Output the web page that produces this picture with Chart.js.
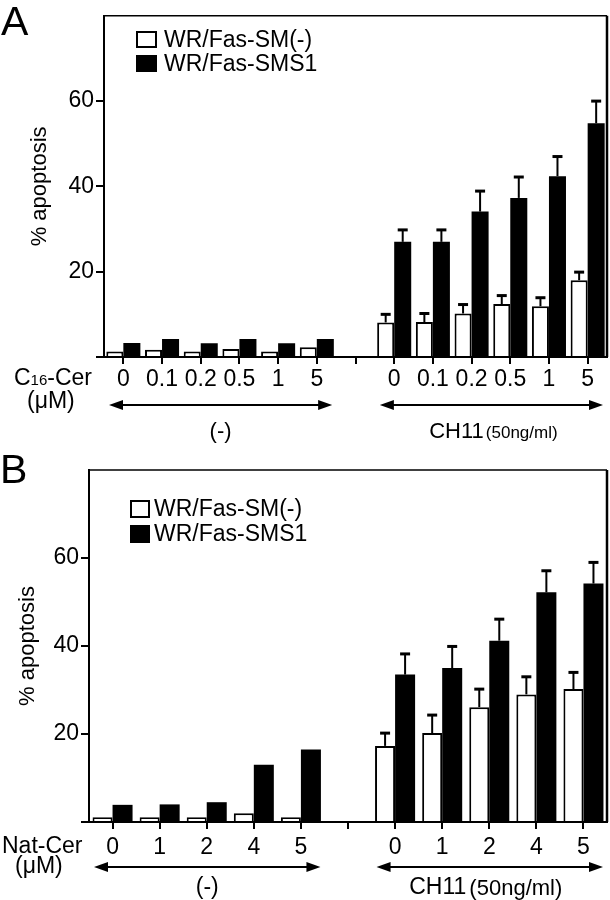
<!DOCTYPE html>
<html><head><meta charset="utf-8">
<script src="https://cdn.jsdelivr.net/npm/chart.js@4/dist/chart.umd.min.js"></script>
<style>
html,body{margin:0;padding:0;background:#fff;}
#wrap{position:relative;width:610px;height:900px;}
canvas{position:absolute;left:0;}
</style>
</head><body>
<div id="wrap">
<canvas id="cA" width="610" height="450" style="top:0"></canvas>
<canvas id="cB" width="610" height="450" style="top:450px"></canvas>
</div>
<script>
const FONT = '"Liberation Sans", Arial, Helvetica, sans-serif';
const seriesNames = ['WR/Fas-SM(-)', 'WR/Fas-SMS1'];
const yTickValues = [0, 20, 40, 60];
const yTitle = '% apoptosis';
const groupNames = ['(-)', 'CH11', '(50ng/ml)'];

// Panel A: C16-Cer (uM)
const catsA = ['0','0.1','0.2','0.5','1','5','','0','0.1','0.2','0.5','1','5'];
const smNegA = [1.3,1.7,1.3,1.9,1.3,2.3,null,8.1,8.2,10.2,12.4,11.9,18.0];
const smNegErrA = [0,0,0,0,0,0,null,1.9,2.0,2.1,2.0,2.0,1.9];
const sms1A = [3.3,4.2,3.2,4.2,3.2,4.2,null,27.0,27.0,34.1,37.3,42.4,54.8];
const sms1ErrA = [0,0,0,0,0,0,null,2.8,2.8,4.8,4.9,4.6,5.2];

// Panel B: Nat-Cer (uM)
const catsB = ['0','1','2','4','5','','0','1','2','4','5'];
const smNegB = [1.1,1.1,1.1,2.0,1.1,null,17.3,20.2,26.1,29.0,30.2];
const smNegErrB = [0,0,0,0,0,null,2.9,4.1,4.1,4.0,3.8];
const sms1B = [3.9,4.0,4.5,13.0,16.5,null,33.5,35.0,41.2,52.2,54.2];
const sms1ErrB = [0,0,0,0,0,null,4.7,4.9,4.9,4.9,4.8];

const errorBars = {
  id: 'errorBars',
  afterDatasetsDraw(chart) {
    const {ctx, scales: {y}} = chart;
    ctx.save();
    ctx.strokeStyle = '#000';
    chart.data.datasets.forEach((ds, i) => {
      const meta = chart.getDatasetMeta(i);
      meta.data.forEach((bar, j) => {
        const v = ds.data[j], e = ds.errors[j];
        if (v == null || !e) return;
        const yTop = y.getPixelForValue(v + e);
        const cx = bar.x;
        ctx.lineWidth = 2;
        ctx.beginPath(); ctx.moveTo(cx, bar.y); ctx.lineTo(cx, yTop); ctx.stroke();
        ctx.lineWidth = 3;
        ctx.beginPath(); ctx.moveTo(cx - 5, yTop); ctx.lineTo(cx + 5, yTop); ctx.stroke();
      });
    });
    ctx.restore();
  }
};

function arrow(ctx, x0, x1, y) {
  ctx.lineWidth = 2;
  ctx.beginPath(); ctx.moveTo(x0 + 6, y); ctx.lineTo(x1 - 6, y); ctx.stroke();
  ctx.beginPath(); ctx.moveTo(x0, y); ctx.lineTo(x0 + 14, y - 5); ctx.lineTo(x0 + 14, y + 5); ctx.closePath(); ctx.fill();
  ctx.beginPath(); ctx.moveTo(x1, y); ctx.lineTo(x1 - 14, y - 5); ctx.lineTo(x1 - 14, y + 5); ctx.closePath(); ctx.fill();
}

function makeAnnot(cfg) {
  return {
    id: 'annot',
    afterDraw(chart) {
      const {ctx, chartArea: ca, scales: {x}} = chart;
      ctx.save();
      ctx.strokeStyle = '#000'; ctx.fillStyle = '#000';
      // frame top/right
      ctx.lineWidth = 1.5;
      ctx.beginPath(); ctx.moveTo(ca.left, ca.top); ctx.lineTo(ca.right, ca.top); ctx.stroke();
      ctx.lineWidth = 2.5;
      ctx.beginPath(); ctx.moveTo(ca.right, ca.top); ctx.lineTo(ca.right, ca.bottom); ctx.stroke();
      // panel letter
      ctx.textBaseline = 'alphabetic'; ctx.textAlign = 'left';
      ctx.font = '41px ' + FONT;
      ctx.fillText(cfg.letter, cfg.letterX, cfg.letterY);
      // legend
      const lg = cfg.legend;
      ctx.font = cfg.legendFont + 'px ' + FONT;
      ctx.textBaseline = 'middle';
      ctx.lineWidth = 2;
      ctx.fillStyle = '#fff';
      ctx.fillRect(lg.x, lg.y1, lg.w, lg.h);
      ctx.strokeRect(lg.x + 1, lg.y1 + 1, lg.w - 2, lg.h - 2);
      ctx.fillStyle = '#000';
      ctx.fillRect(lg.x, lg.y2, lg.w, lg.h);
      ctx.fillText(seriesNames[0], lg.tx, lg.y1 + lg.h / 2 + 1);
      ctx.fillText(seriesNames[1], lg.tx, lg.y2 + lg.h / 2 + 1);
      // arrows + group labels
      const half = (x.getPixelForValue(1) - x.getPixelForValue(0)) / 2;
      const ay = ca.bottom + cfg.arrowDy;
      const groups = cfg.groups;
      groups.forEach((g, gi) => {
        const x0 = x.getPixelForValue(g[0]) - half + 5;
        const x1 = x.getPixelForValue(g[1]) + half - 4;
        arrow(ctx, x0, x1, ay);
        const cx = (x0 + x1) / 2;
        const gy = ca.bottom + cfg.groupDy;
        ctx.textBaseline = 'middle';
        if (gi === 0) {
          ctx.font = cfg.groupFont + 'px ' + FONT;
          ctx.textAlign = 'center';
          ctx.fillText(groupNames[0], cx, gy);
        } else {
          ctx.font = cfg.groupFont + 'px ' + FONT;
          const w1 = ctx.measureText(groupNames[1]).width;
          ctx.font = cfg.groupFont2 + 'px ' + FONT;
          const w2 = ctx.measureText(groupNames[2]).width;
          const gap = cfg.groupGap;
          const sx = cx - (w1 + gap + w2) / 2 + cfg.groupShift;
          ctx.textAlign = 'left';
          ctx.font = cfg.groupFont + 'px ' + FONT;
          ctx.fillText(groupNames[1], sx, gy);
          ctx.font = cfg.groupFont2 + 'px ' + FONT;
          ctx.fillText(groupNames[2], sx + w1 + gap, gy + 1);
        }
      });
      // row label
      ctx.textAlign = 'left'; ctx.textBaseline = 'middle';
      const ry = ca.bottom + cfg.rowDy;
      let rx = cfg.rowX;
      cfg.rowParts.forEach(p => {
        ctx.font = p.size + 'px ' + FONT;
        ctx.fillText(p.t, rx, ry + (p.dy || 0));
        rx += ctx.measureText(p.t).width;
      });
      ctx.font = cfg.tickFont + 'px ' + FONT;
      ctx.fillText('(\u03bcM)', cfg.unitX, ca.bottom + cfg.unitDy);
      ctx.restore();
    }
  };
}

function buildPanel(canvas, cats, neg, negErr, pos, posErr, cfg) {
  return new Chart(canvas, {
    type: 'bar',
    data: {
      labels: cats,
      datasets: [
        {label: seriesNames[0], data: neg, errors: negErr, backgroundColor: '#fff', borderColor: '#000', borderWidth: 2,
         categoryPercentage: cfg.catPct, barPercentage: 1},
        {label: seriesNames[1], data: pos, errors: posErr, backgroundColor: '#000', borderColor: '#000', borderWidth: 0,
         categoryPercentage: cfg.catPct, barPercentage: 1}
      ]
    },
    options: {
      responsive: false, animation: false, devicePixelRatio: 1, events: [],
      layout: {padding: {top: cfg.padTop, right: 3, left: 0, bottom: 0}},
      plugins: {legend: {display: false}, tooltip: {enabled: false}},
      scales: {
        x: {
          type: 'category', offset: true,
          grid: {offset: false, drawOnChartArea: false, drawTicks: true, tickLength: 7, color: '#000', lineWidth: 2},
          border: {display: true, color: '#000', width: 2},
          ticks: {font: {family: FONT, size: cfg.tickFont}, color: '#000', padding: cfg.xPad, maxRotation: 0, autoSkip: false},
          afterFit(s) { s.height = cfg.xAxisH; }
        },
        y: {
          min: 0, max: 80,
          afterBuildTicks(s) { s.ticks = yTickValues.map(v => ({value: v})); },
          grid: {drawOnChartArea: false, drawTicks: true, tickLength: 8, color: '#000', lineWidth: 2},
          border: {display: true, color: '#000', width: 2},
          ticks: {font: {family: FONT, size: cfg.tickFont}, color: '#000', padding: 2,
                  callback: v => v === 0 ? '' : String(v)},
          title: {display: true, text: yTitle, font: {family: FONT, size: 22}, color: '#000',
                  padding: {top: cfg.titlePad, bottom: 0}},
          afterFit(s) { s.width = cfg.yAxisW; }
        }
      }
    },
    plugins: [errorBars, makeAnnot(cfg)]
  });
}

buildPanel(document.getElementById('cA'), catsA, smNegA, smNegErrA, sms1A, sms1ErrA, {
  letter: 'A', letterX: 1, letterY: 35,
  padTop: 8, xAxisH: 93, yAxisW: 104, catPct: 0.88, tickFont: 23, xPad: 2, titlePad: 27,
  legendFont: 23, legend: {x: 136, y1: 31, y2: 55, w: 21, h: 17, tx: 164},
  arrowDy: 48, groupDy: 75, groupFont: 22, groupFont2: 17, groupGap: 2, groupShift: 2,
  groups: [[0, 5], [7, 12]],
  rowX: 14, rowDy: 22, rowParts: [{t: 'C', size: 23}, {t: '16', size: 15, dy: 2}, {t: '-Cer', size: 23}],
  unitX: 27, unitDy: 45
});

buildPanel(document.getElementById('cB'), catsB, smNegB, smNegErrB, sms1B, sms1ErrB, {
  letter: 'B', letterX: 0, letterY: 33,
  padTop: 20, xAxisH: 78, yAxisW: 89, catPct: 0.85, tickFont: 23, xPad: 5, titlePad: 15,
  legendFont: 23, legend: {x: 130, y1: 50, y2: 75, w: 20, h: 18, tx: 154},
  arrowDy: 45, groupDy: 66, groupFont: 23, groupFont2: 22, groupGap: 3, groupShift: -4,
  groups: [[0, 4], [6, 10]],
  rowX: 2, rowDy: 25, rowParts: [{t: 'Nat-Cer', size: 23}],
  unitX: 15, unitDy: 45
});
</script>
</body></html>
